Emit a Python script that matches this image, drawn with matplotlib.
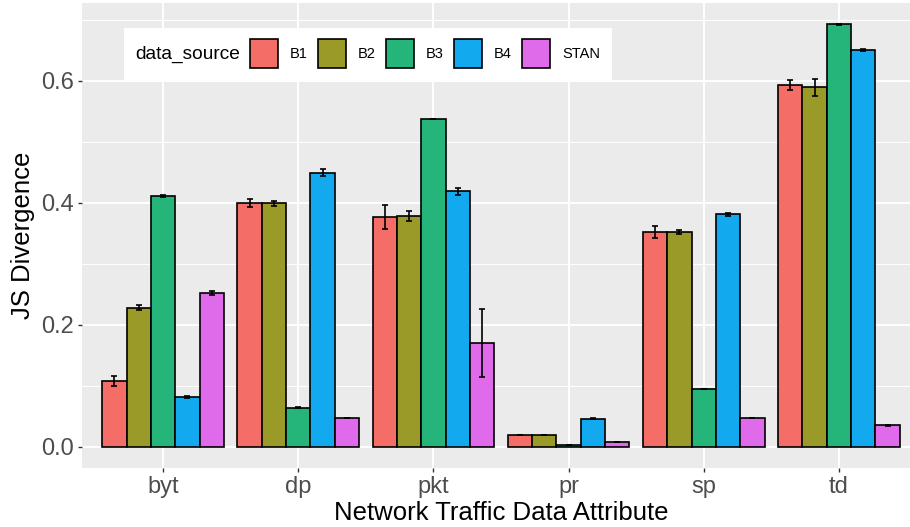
import matplotlib.pyplot as plt
import matplotlib.patches as mpatches
import numpy as np

plt.rcParams['font.family'] = ['Liberation Sans', 'DejaVu Sans']

attributes = ['byt', 'dp', 'pkt', 'pr', 'sp', 'td']
sources = ['B1', 'B2', 'B3', 'B4', 'STAN']
colors = ['#F46D67', '#9A9A28', '#25B57A', '#12A9EE', '#E06BEA']

# mean JS divergence per source, one value per attribute
b1 = [0.108, 0.399, 0.3765, 0.0192, 0.3525, 0.593]
b2 = [0.228, 0.399, 0.378, 0.0192, 0.352, 0.589]
b3 = [0.411, 0.064, 0.537, 0.0033, 0.095, 0.692]
b4 = [0.0815, 0.449, 0.4186, 0.0464, 0.381, 0.650]
stan = [0.252, 0.047, 0.170, 0.0082, 0.047, 0.035]

# error bar half widths
b1_err = [0.0077, 0.0066, 0.020, 0.0005, 0.0096, 0.0077]
b2_err = [0.004, 0.004, 0.0087, 0.0005, 0.004, 0.014]
b3_err = [0.001, 0.0005, 0.0005, 0.0005, 0.0005, 0.0005]
b4_err = [0.002, 0.006, 0.0057, 0.0007, 0.002, 0.002]
stan_err = [0.003, 0.0005, 0.0563, 0.0005, 0.0005, 0.0005]

values = [b1, b2, b3, b4, stan]
errors = [b1_err, b2_err, b3_err, b4_err, stan_err]

W, H = 910, 527
fig = plt.figure(figsize=(W / 100, H / 100), dpi=100)
fig.patch.set_facecolor('white')

# panel runs past the right edge like the original crop
left, right, top, bottom = 82, 920, 3, 468
ax = fig.add_axes([left / W, 1 - bottom / H, (right - left) / W, (bottom - top) / H])
ax.set_facecolor('#EBEBEB')
for s in ax.spines.values():
    s.set_visible(False)

x = np.arange(len(attributes))
bw = 0.18
for i, (vals, errs) in enumerate(zip(values, errors)):
    pos = x + (i - 2) * bw
    ax.bar(pos, vals, width=bw, color=colors[i], edgecolor='black', linewidth=1.2, zorder=3)
    ax.errorbar(pos, vals, yerr=errs, fmt='none', ecolor='black', elinewidth=1.2,
                capsize=2.2, capthick=1.2, zorder=4)

hi = max(max(np.array(v) + np.array(e)) for v, e in zip(values, errors))
pad = hi * 0.05
ax.set_ylim(-pad, hi + pad)
ax.set_xlim(-0.6, len(attributes) - 1 + 0.6)

ax.set_yticks([0.0, 0.2, 0.4, 0.6])
ax.set_yticklabels(['0.0', '0.2', '0.4', '0.6'])
ax.set_yticks([0.1, 0.3, 0.5, 0.7], minor=True)
ax.set_xticks(x)
ax.set_xticklabels(attributes)
ax.grid(which='major', color='white', linewidth=1.4, zorder=0)
ax.grid(which='minor', axis='y', color='white', linewidth=0.7, zorder=0)
ax.set_axisbelow(True)
ax.tick_params(which='major', length=3, width=1, color='#333333',
               labelcolor='#4D4D4D', labelsize=17, pad=3)
ax.tick_params(which='minor', length=0)

ax.set_xlabel('Network Traffic Data Attribute', fontsize=18.5, color='black', labelpad=2)
ax.set_ylabel('JS Divergence', fontsize=18.5, color='black', labelpad=4)

# legend drawn by hand: title on the left, keys in one row
def fx(px):
    return px / W


def fy(py):
    return 1 - py / H


fig.add_artist(mpatches.Rectangle((fx(124), fy(80)), fx(612) - fx(124), fy(28) - fy(80),
                                  transform=fig.transFigure, facecolor='white',
                                  edgecolor='none', zorder=5))
fig.text(fx(135), fy(54), 'data_source', fontsize=13.8, va='center', ha='left', zorder=6)
for i, name in enumerate(sources):
    kx = 250 + i * 68
    fig.add_artist(mpatches.Rectangle((fx(kx), fy(68)), fx(28), 29 / H,
                                      transform=fig.transFigure, facecolor=colors[i],
                                      edgecolor='black', linewidth=1.2, zorder=6))
    fig.text(fx(kx + 40), fy(54), name, fontsize=10.5, va='center', ha='left', zorder=6)

fig.savefig('out.png', dpi=100)
